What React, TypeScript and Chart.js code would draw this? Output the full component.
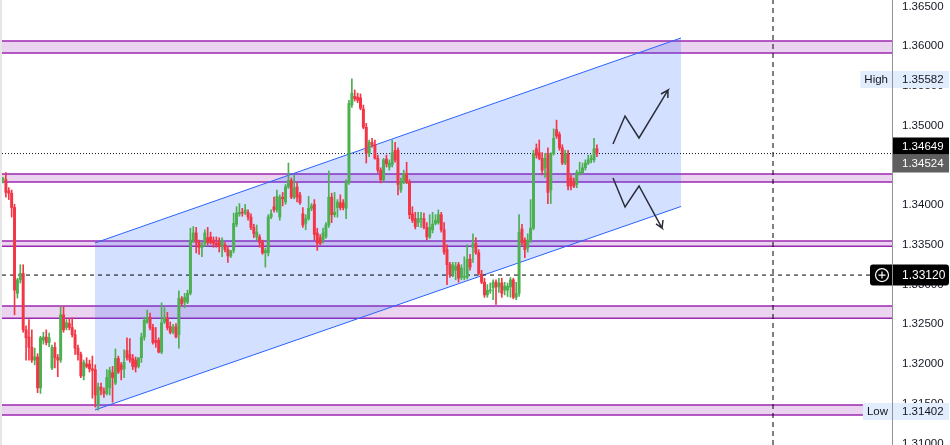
import { useEffect, useRef } from "react";
import { Chart, registerables } from "chart.js";

Chart.register(...registerables);

// ---- candle data (207 bars) ----
const opens = [
  1.3432, 1.3432, 1.3418, 1.3415, 1.3397, 1.3289, 1.3306, 1.3314, 1.3243, 1.3234,
  1.3221, 1.3205, 1.3209, 1.3170, 1.3230, 1.3234, 1.3227, 1.3195, 1.3221, 1.3208,
  1.3205, 1.3262, 1.3246, 1.3251, 1.3246, 1.3237, 1.3220, 1.3212, 1.3185, 1.3200,
  1.3200, 1.3194, 1.3193, 1.3149, 1.3171, 1.3166, 1.3163, 1.3170, 1.3189, 1.3176,
  1.3207, 1.3199, 1.3194, 1.3217, 1.3212, 1.3207, 1.3205, 1.3197, 1.3208, 1.3234,
  1.3253, 1.3259, 1.3246, 1.3230, 1.3230, 1.3215, 1.3253, 1.3258, 1.3247, 1.3240,
  1.3247, 1.3237, 1.3282, 1.3278, 1.3278, 1.3289, 1.3356, 1.3365, 1.3353, 1.3347,
  1.3352, 1.3359, 1.3360, 1.3356, 1.3352, 1.3353, 1.3348, 1.3350, 1.3344, 1.3336,
  1.3343, 1.3376, 1.3389, 1.3391, 1.3390, 1.3391, 1.3385, 1.3372, 1.3360, 1.3360,
  1.3353, 1.3340, 1.3340, 1.3385, 1.3398, 1.3394, 1.3385, 1.3410, 1.3404, 1.3423,
  1.3431, 1.3410, 1.3423, 1.3413, 1.3389, 1.3377, 1.3383, 1.3396, 1.3401, 1.3365,
  1.3359, 1.3356, 1.3360, 1.3375, 1.3410, 1.3388, 1.3397, 1.3403, 1.3403, 1.3396,
  1.3428, 1.3526, 1.3537, 1.3536, 1.3535, 1.3521, 1.3498, 1.3465, 1.3479, 1.3476,
  1.3459, 1.3444, 1.3432, 1.3458, 1.3448, 1.3451, 1.3469, 1.3469, 1.3419,
  1.3429, 1.3440, 1.3429, 1.3389, 1.3383, 1.3378, 1.3382, 1.3383, 1.3372,
  1.3360, 1.3369, 1.3377, 1.3378, 1.3388, 1.3369, 1.3344, 1.3325, 1.3314, 1.3318,
  1.3325, 1.3309, 1.3309, 1.3309, 1.3332, 1.3347, 1.3352, 1.3340, 1.3313,
  1.3303, 1.3287, 1.3292, 1.3296, 1.3303, 1.3297, 1.3302, 1.3293, 1.3293,
  1.3297, 1.3306, 1.3284, 1.3289, 1.3370, 1.3356, 1.3346, 1.3356, 1.3371, 1.3471,
  1.3466, 1.3459, 1.3447, 1.3465, 1.3419, 1.3465, 1.3495, 1.3489, 1.3472, 1.3453,
  1.3464, 1.3434, 1.3429, 1.3426, 1.3440, 1.3441, 1.3447, 1.3453,
  1.3457, 1.3457, 1.3471,
];

const highs = [
  1.3435, 1.3441, 1.3422, 1.3419, 1.3401, 1.3308, 1.3325, 1.3325, 1.3248, 1.3256,
  1.3243, 1.3220, 1.3213, 1.3235, 1.3240, 1.3243, 1.3239, 1.3224, 1.3227, 1.3212,
  1.3272, 1.3272, 1.3256, 1.3257, 1.3258, 1.3243, 1.3224, 1.3215, 1.3205, 1.3208,
  1.3205, 1.3210, 1.3199, 1.3176, 1.3176, 1.3170, 1.3193, 1.3196, 1.3197, 1.3219,
  1.3210, 1.3202, 1.3218, 1.3233, 1.3232, 1.3212, 1.3209, 1.3205, 1.3239, 1.3259,
  1.3268, 1.3264, 1.3250, 1.3246, 1.3233, 1.3277, 1.3271, 1.3265, 1.3253, 1.3250,
  1.3251, 1.3292, 1.3285, 1.3289, 1.3293, 1.3371, 1.3373, 1.3372, 1.3356, 1.3353,
  1.3369, 1.3372, 1.3366, 1.3360, 1.3360, 1.3359, 1.3359, 1.3353, 1.3348, 1.3341,
  1.3390, 1.3398, 1.3402, 1.3396, 1.3401, 1.3394, 1.3389, 1.3376, 1.3375, 1.3363,
  1.3356, 1.3346, 1.3388, 1.3394, 1.3410, 1.3419, 1.3413, 1.3416, 1.3426, 1.3453,
  1.3434, 1.3438, 1.3428, 1.3416, 1.3397, 1.3388, 1.3411, 1.3402, 1.3407, 1.3371,
  1.3363, 1.3371, 1.3378, 1.3443, 1.3415, 1.3416, 1.3407, 1.3413, 1.3407, 1.3432,
  1.3532, 1.3559, 1.3545, 1.3541, 1.3540, 1.3526, 1.3503, 1.3482, 1.3484, 1.3482,
  1.3463, 1.3447, 1.3459, 1.3463, 1.3457, 1.3482, 1.3479, 1.3472, 1.3434,
  1.3444, 1.3454, 1.3432, 1.3398, 1.3391, 1.3391, 1.3391, 1.3390, 1.3378,
  1.3388, 1.3391, 1.3388, 1.3394, 1.3391, 1.3378, 1.3350, 1.3328, 1.3328, 1.3328,
  1.3328, 1.3325, 1.3335, 1.3350, 1.3338, 1.3364, 1.3359, 1.3344, 1.3318,
  1.3308, 1.3300, 1.3302, 1.3306, 1.3306, 1.3308, 1.3308, 1.3303, 1.3302,
  1.3309, 1.3308, 1.3303, 1.3388, 1.3376, 1.3359, 1.3364, 1.3407, 1.3469, 1.3477,
  1.3482, 1.3466, 1.3465, 1.3472, 1.3466, 1.3496, 1.3507, 1.3492, 1.3476, 1.3469,
  1.3469, 1.3438, 1.3434, 1.3444, 1.3454, 1.3453, 1.3457, 1.3463,
  1.3463, 1.3484, 1.3476,
];

const lows = [
  1.3428, 1.3410, 1.3407, 1.3385, 1.3262, 1.3283, 1.3302, 1.3240, 1.3205, 1.3205,
  1.3202, 1.3199, 1.3164, 1.3163, 1.3225, 1.3224, 1.3222, 1.3193, 1.3195, 1.3184,
  1.3202, 1.3240, 1.3243, 1.3243, 1.3234, 1.3212, 1.3205, 1.3183, 1.3180, 1.3195,
  1.3190, 1.3157, 1.3146, 1.3142, 1.3161, 1.3158, 1.3161, 1.3161, 1.3152, 1.3174,
  1.3188, 1.3180, 1.3183, 1.3205, 1.3202, 1.3193, 1.3190, 1.3195, 1.3202, 1.3230,
  1.3251, 1.3243, 1.3225, 1.3221, 1.3214, 1.3213, 1.3251, 1.3243, 1.3238, 1.3238,
  1.3233, 1.3220, 1.3273, 1.3271, 1.3276, 1.3287, 1.3353, 1.3340, 1.3338, 1.3335,
  1.3348, 1.3350, 1.3351, 1.3347, 1.3347, 1.3341, 1.3335, 1.3341, 1.3328, 1.3334,
  1.3340, 1.3373, 1.3386, 1.3386, 1.3388, 1.3381, 1.3369, 1.3359, 1.3356, 1.3347,
  1.3338, 1.3322, 1.3336, 1.3383, 1.3391, 1.3391, 1.3381, 1.3399, 1.3401, 1.3421,
  1.3408, 1.3408, 1.3404, 1.3401, 1.3372, 1.3369, 1.3381, 1.3393, 1.3356, 1.3343,
  1.3350, 1.3352, 1.3358, 1.3372, 1.3378, 1.3385, 1.3385, 1.3394, 1.3394, 1.3383,
  1.3426, 1.3523, 1.3531, 1.3529, 1.3520, 1.3496, 1.3453, 1.3461, 1.3473, 1.3458,
  1.3441, 1.3428, 1.3430, 1.3448, 1.3444, 1.3448, 1.3454, 1.3413, 1.3416,
  1.3427, 1.3427, 1.3383, 1.3378, 1.3370, 1.3373, 1.3372, 1.3370, 1.3356,
  1.3358, 1.3365, 1.3375, 1.3376, 1.3366, 1.3338, 1.3300, 1.3309, 1.3310, 1.3306,
  1.3303, 1.3306, 1.3306, 1.3307, 1.3318, 1.3328, 1.3338, 1.3312, 1.3301,
  1.3284, 1.3284, 1.3289, 1.3281, 1.3275, 1.3290, 1.3284, 1.3287, 1.3285,
  1.3284, 1.3282, 1.3281, 1.3285, 1.3350, 1.3334, 1.3341, 1.3353, 1.3369, 1.3459,
  1.3457, 1.3438, 1.3435, 1.3402, 1.3402, 1.3463, 1.3484, 1.3469, 1.3451, 1.3451,
  1.3419, 1.3419, 1.3422, 1.3422, 1.3438, 1.3439, 1.3444, 1.3451,
  1.3453, 1.3454, 1.3461,
];

const closes = [
  1.3433, 1.3416, 1.3415, 1.3397, 1.3293, 1.3306, 1.3314, 1.3243, 1.3233, 1.3221,
  1.3205, 1.3209, 1.3170, 1.3233, 1.3234, 1.3227, 1.3233, 1.3221, 1.3208, 1.3205,
  1.3262, 1.3243, 1.3252, 1.3246, 1.3237, 1.3220, 1.3212, 1.3185, 1.3202, 1.3197,
  1.3194, 1.3192, 1.3161, 1.3171, 1.3167, 1.3163, 1.3183, 1.3192, 1.3183, 1.3207,
  1.3190, 1.3193, 1.3202, 1.3208, 1.3205, 1.3197, 1.3196, 1.3208, 1.3234, 1.3255,
  1.3258, 1.3246, 1.3227, 1.3227, 1.3215, 1.3252, 1.3258, 1.3246, 1.3240, 1.3247,
  1.3234, 1.3283, 1.3276, 1.3284, 1.3289, 1.3356, 1.3365, 1.3353, 1.3347, 1.3350,
  1.3365, 1.3353, 1.3353, 1.3352, 1.3350, 1.3348, 1.3356, 1.3344, 1.3336, 1.3343,
  1.3377, 1.3390, 1.3391, 1.3390, 1.3394, 1.3385, 1.3372, 1.3364, 1.3366, 1.3353,
  1.3340, 1.3343, 1.3385, 1.3389, 1.3394, 1.3411, 1.3410, 1.3408, 1.3423, 1.3431,
  1.3410, 1.3422, 1.3410, 1.3403, 1.3375, 1.3383, 1.3396, 1.3399, 1.3363, 1.3352,
  1.3352, 1.3365, 1.3375, 1.3410, 1.3388, 1.3391, 1.3404, 1.3397, 1.3397, 1.3428,
  1.3528, 1.3541, 1.3534, 1.3532, 1.3522, 1.3498, 1.3466, 1.3479, 1.3476, 1.3459,
  1.3444, 1.3432, 1.3457, 1.3452, 1.3453, 1.3466, 1.3457, 1.3426, 1.3429,
  1.3440, 1.3429, 1.3388, 1.3381, 1.3373, 1.3383, 1.3383, 1.3372, 1.3360,
  1.3372, 1.3376, 1.3381, 1.3388, 1.3369, 1.3341, 1.3325, 1.3313, 1.3325, 1.3323,
  1.3308, 1.3321, 1.3310, 1.3332, 1.3322, 1.3351, 1.3340, 1.3314, 1.3303,
  1.3287, 1.3293, 1.3293, 1.3303, 1.3297, 1.3302, 1.3289, 1.3298, 1.3298,
  1.3306, 1.3284, 1.3289, 1.3366, 1.3353, 1.3344, 1.3356, 1.3371, 1.3465, 1.3463,
  1.3459, 1.3444, 1.3459, 1.3416, 1.3465, 1.3484, 1.3487, 1.3472, 1.3453, 1.3465,
  1.3424, 1.3424, 1.3424, 1.3441, 1.3441, 1.3447, 1.3453, 1.3457,
  1.3459, 1.3471, 1.3465,
];

// ---- axis ----
const yTicks = [1.31, 1.315, 1.32, 1.325, 1.33, 1.335, 1.34, 1.345, 1.35, 1.355, 1.36, 1.365];
const yRange = [1.30981, 1.36582];
const xRange = [-0.347, 308.35];

// ---- support / resistance zones ----
const bandTops = [1.36066, 1.34392, 1.33549, 1.32731, 1.31485];
const bandBottoms = [1.35915, 1.34291, 1.33482, 1.32576, 1.31359];

// ---- ascending channel ----
const channelXs = [31.91, 235.17];
const channelUpper = [1.33524, 1.36104];
const channelLower = [1.31422, 1.33983];

// ---- scenario arrows (path + arrow head) ----
const upArrowX = [211.58, 215.75, 220.6, 230.66, 228.23, 230.66, 230.59];
const upArrowY = [1.3477, 1.35122, 1.34845, 1.35449, 1.35399, 1.35449, 1.35349];
const downArrowX = [211.58, 215.75, 220.6, 228.58, 226.5, 228.58, 228.93];
const downArrowY = [1.34342, 1.33977, 1.34241, 1.33712, 1.33763, 1.33712, 1.33813];

// ---- price markers ----
const lastPrice = 1.34649;
const prevClose = 1.34524;
const crossPrice = 1.3312;
const crossIndex = 267.08;
const highPrice = 1.35582;
const lowPrice = 1.31402;

const GREEN = "#4caf50";
const RED = "#f23645";
const FONT = '"Liberation Sans", Arial, sans-serif';

const tagsPlugin = {
  id: "priceTags",
  beforeDraw(chart: any) {
    const { ctx, chartArea } = chart;
    ctx.save();
    ctx.fillStyle = "#e6e6e6";
    ctx.fillRect(0, 0, chartArea.left, chart.height);
    ctx.restore();
  },
  afterDraw(chart: any) {
    const { ctx, chartArea, scales } = chart;
    const ys = scales.y;
    const right = chartArea.right;
    const full = chart.width;
    ctx.save();
    ctx.font = `11.5px ${FONT}`;
    ctx.textBaseline = "middle";
    const rect = (x0: number, yc: number, x1: number, h: number, fill: string, r = 0) => {
      ctx.fillStyle = fill;
      ctx.beginPath();
      if (r > 0 && ctx.roundRect) ctx.roundRect(x0, yc - h / 2, x1 - x0, h, r);
      else ctx.rect(x0, yc - h / 2, x1 - x0, h);
      ctx.fill();
    };
    const priceText = (v: number, yc: number, color: string) => {
      ctx.fillStyle = color;
      ctx.textAlign = "left";
      ctx.fillText(v.toFixed(5), right + 10, yc + 0.5);
    };
    const sideTag = (label: string, v: number) => {
      const yc = ys.getPixelForValue(v);
      const w = ctx.measureText(label).width;
      rect(right - w - 8, yc, full - 1, 17, "#e1ecfc");
      ctx.fillStyle = "#131722";
      ctx.textAlign = "right";
      ctx.fillText(label, right - 4, yc + 0.5);
      priceText(v, yc, "#131722");
    };
    sideTag("High", highPrice);
    sideTag("Low", lowPrice);

    const prevY = ys.getPixelForValue(prevClose);
    let lastY = ys.getPixelForValue(lastPrice);
    if (prevY - lastY < 17.5) lastY = prevY - 17.5;
    rect(right, prevY, full - 1, 18, "#5f5f5f");
    priceText(prevClose, prevY, "#ffffff");
    rect(right, lastY, full - 1, 17, "#000000");
    priceText(lastPrice, lastY, "#ffffff");

    const cy = ys.getPixelForValue(crossPrice);
    rect(right - 22, cy, full - 1, 21, "#000000", 3);
    ctx.strokeStyle = "#ffffff";
    ctx.lineWidth = 1.2;
    ctx.beginPath();
    ctx.arc(right - 10, cy, 6.5, 0, Math.PI * 2);
    ctx.stroke();
    ctx.beginPath();
    ctx.moveTo(right - 13.5, cy);
    ctx.lineTo(right - 6.5, cy);
    ctx.moveTo(right - 10, cy - 3.5);
    ctx.lineTo(right - 10, cy + 3.5);
    ctx.stroke();
    ctx.font = `12px ${FONT}`;
    priceText(crossPrice, cy, "#ffffff");

    ctx.strokeStyle = "#8f929a";
    ctx.lineWidth = 1;
    ctx.beginPath();
    ctx.moveTo(right + 0.5, 0);
    ctx.lineTo(right + 0.5, chart.height);
    ctx.stroke();
    ctx.restore();
  },
};

export default function App() {
  const ref = useRef<HTMLCanvasElement>(null);

  useEffect(() => {
    const canvas = ref.current;
    if (!canvas) return;
    const idx = opens.map((_, i) => i);
    const colors = idx.map((i) => (closes[i] >= opens[i] ? GREEN : RED));
    const x0 = xRange[0];
    const x1 = xRange[1];

    const lineBase = { type: "line", pointRadius: 0, tension: 0, fill: false, clip: 0 };
    const hLine = (y: number, color: string, width: number, dash: number[], order: number) => ({
      ...lineBase,
      data: [
        { x: x0, y },
        { x: x1, y },
      ],
      borderColor: color,
      borderWidth: width,
      borderDash: dash,
      order,
    });

    const bandFills = bandTops.map((top, i) => ({
      ...lineBase,
      data: [
        { x: x0, y: top },
        { x: x1, y: top },
        { x: x1, y: bandBottoms[i] },
        { x: x0, y: bandBottoms[i] },
        { x: x0, y: top },
      ],
      fill: "shape",
      backgroundColor: "rgba(156,39,176,0.2)",
      borderColor: "rgba(0,0,0,0)",
      borderWidth: 0,
      order: 21,
    }));
    const bandEdges = [...bandTops, ...bandBottoms].map((y) => hLine(y, "#9c27b0", 1.4, [], 20));

    const channelFill = {
      ...lineBase,
      data: [
        { x: channelXs[0], y: channelUpper[0] },
        { x: channelXs[1], y: channelUpper[1] },
        { x: channelXs[1], y: channelLower[1] },
        { x: channelXs[0], y: channelLower[0] },
        { x: channelXs[0], y: channelUpper[0] },
      ],
      fill: "shape",
      backgroundColor: "rgba(41,98,255,0.2)",
      borderWidth: 0,
      borderColor: "rgba(0,0,0,0)",
      order: 15,
    };
    const channelLine = (ys: number[]) => ({
      ...lineBase,
      data: [
        { x: channelXs[0], y: ys[0] },
        { x: channelXs[1], y: ys[1] },
      ],
      borderColor: "#2962ff",
      borderWidth: 1,
      order: 14,
    });
    const arrow = (xs: number[], ys: number[]) => ({
      ...lineBase,
      data: xs.map((x, i) => ({ x, y: ys[i] })),
      borderColor: "#2a2e39",
      borderWidth: 1.5,
      borderJoinStyle: "miter",
      order: 2,
    });

    const chart = new Chart(canvas, {
      type: "bar",
      data: {
        datasets: [
          {
            type: "bar",
            data: idx.map((i) => ({ x: i, y: [Math.min(opens[i], closes[i]), Math.max(opens[i], closes[i])] })),
            backgroundColor: colors,
            barThickness: 2.3,
            minBarLength: 1,
            grouped: false,
            borderWidth: 0,
            order: 0,
          },
          {
            type: "bar",
            data: idx.map((i) => ({ x: i, y: [lows[i], highs[i]] })),
            backgroundColor: colors,
            barThickness: 1,
            grouped: false,
            borderWidth: 0,
            order: 1,
          },
          ...bandFills,
          ...bandEdges,
          channelFill,
          channelLine(channelUpper),
          channelLine(channelLower),
          arrow(upArrowX, upArrowY),
          arrow(downArrowX, downArrowY),
          hLine(lastPrice, "#131722", 1, [1, 2], 3),
          hLine(crossPrice, "#000000", 1, [4, 4], 3),
          {
            ...lineBase,
            data: [
              { x: crossIndex, y: yRange[0] },
              { x: crossIndex, y: yRange[1] },
            ],
            borderColor: "#000000",
            borderWidth: 1,
            borderDash: [5, 4],
            order: 3,
          },
        ] as any,
      },
      options: {
        animation: false,
        responsive: false,
        events: [],
        layout: { padding: { left: 2, right: 0, top: 0, bottom: 0 } },
        plugins: { legend: { display: false }, tooltip: { enabled: false } },
        scales: {
          x: {
            type: "linear",
            min: x0,
            max: x1,
            offset: false,
            bounds: "data",
            grace: 0,
            display: false,
            grid: { offset: false },
          },
          y: {
            type: "linear",
            position: "right",
            min: yRange[0],
            max: yRange[1],
            grid: { display: false, drawTicks: false },
            border: { display: true, color: "#8f929a" },
            ticks: {
              color: "#131722",
              font: { family: FONT, size: 11.5 },
              padding: 10,
              callback: (v: any) => Number(v).toFixed(5),
            },
            afterBuildTicks: (axis: any) => {
              axis.ticks = yTicks.map((v) => ({ value: v }));
            },
            afterFit: (axis: any) => {
              axis.width = 58;
              axis.paddingTop = 0;
              axis.paddingBottom = 0;
            },
          },
        },
      } as any,
      plugins: [tagsPlugin],
    });
    return () => chart.destroy();
  }, []);

  return (
    <div style={{ position: "absolute", left: 0, top: 0, width: 950, height: 445, background: "#ffffff", overflow: "hidden" }}>
      <canvas ref={ref} width={950} height={445} style={{ display: "block" }} />
    </div>
  );
}
